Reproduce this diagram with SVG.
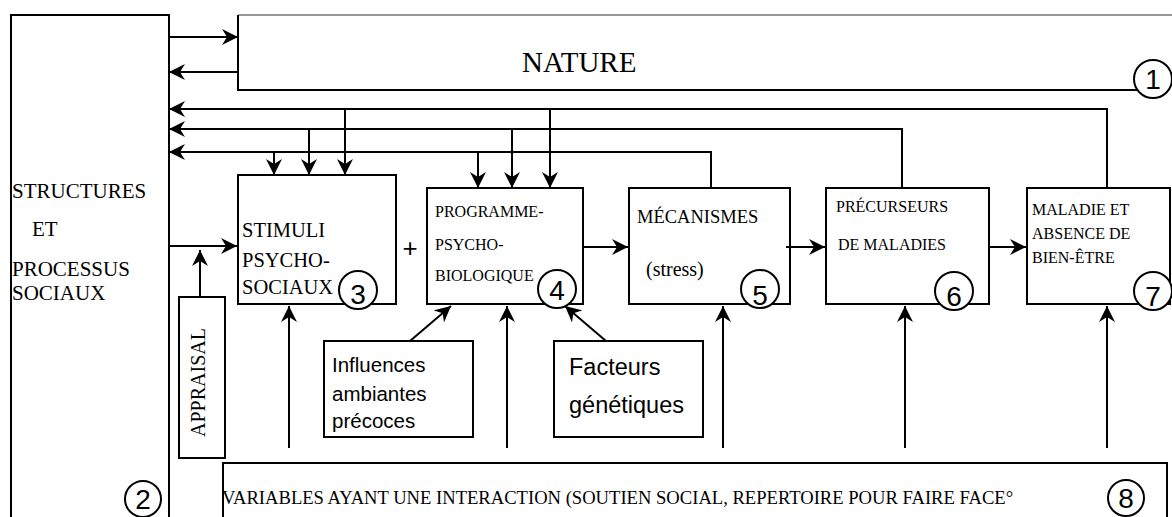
<svg xmlns="http://www.w3.org/2000/svg" width="1172" height="517" viewBox="0 0 1172 517">
<style>
.box{fill:#fff;stroke:#000;stroke-width:2}
.ln{fill:none;stroke:#000;stroke-width:2}
.num{fill:#fff;stroke:#000;stroke-width:2}
.serif{font-family:"Liberation Serif","Times New Roman",serif;fill:#000}
.sans{font-family:"Liberation Sans",Arial,sans-serif;fill:#000}
.dig{font-family:"Liberation Sans",Arial,sans-serif;font-size:28px;text-anchor:middle;fill:#000}
</style>
<defs>
<marker id="ah" viewBox="0 0 16 16" refX="16" refY="8" markerWidth="16" markerHeight="16" markerUnits="userSpaceOnUse" orient="auto">
<path d="M0,0 L16,8 L0,16 L5,8 Z" fill="#000"/>
</marker>
</defs>
<rect width="1172" height="517" fill="#fff"/>

<g id="node-structures">
<path class="ln" d="M11,517 V15 H169 V517"/>
<text class="serif" font-size="21" x="12" y="198">STRUCTURES</text>
<text class="serif" font-size="21" x="32" y="236">ET</text>
<text class="serif" font-size="21" x="12" y="276">PROCESSUS</text>
<text class="serif" font-size="21" x="12" y="300">SOCIAUX</text>
<circle class="num" cx="143" cy="499" r="18"/>
<text class="dig" x="143" y="509">2</text>
</g>

<g id="node-nature">
<path d="M238,15 H1172" stroke="#333" stroke-width="1.2" fill="none"/>
<path class="ln" d="M238,15 V90 H1140"/>
<text class="serif" font-size="29" x="522" y="72">NATURE</text>
<circle class="num" cx="1153" cy="79" r="19"/>
<text class="dig" x="1153" y="89">1</text>
</g>

<g id="node-stimuli">
<rect class="box" x="238" y="175" width="158" height="129"/>
<text class="serif" font-size="20.5" x="242" y="237">STIMULI</text>
<text class="serif" font-size="20.5" x="242" y="267">PSYCHO-</text>
<text class="serif" font-size="20.5" x="242" y="294">SOCIAUX</text>
<circle class="num" cx="358" cy="290" r="19"/>
<text class="dig" x="358" y="304">3</text>
</g>

<text class="sans" font-size="26" x="410" y="257" text-anchor="middle">+</text>

<g id="node-programme">
<rect class="box" x="427" y="188" width="156" height="116"/>
<text class="serif" font-size="16" x="435" y="217">PROGRAMME-</text>
<text class="serif" font-size="16" x="435" y="250">PSYCHO-</text>
<text class="serif" font-size="16" x="435" y="281">BIOLOGIQUE</text>
<circle class="num" cx="557" cy="289" r="19"/>
<text class="dig" x="557" y="300">4</text>
</g>

<g id="node-mecanismes">
<rect class="box" x="629" y="188" width="161" height="116"/>
<text class="serif" font-size="18.5" x="637" y="223">MÉCANISMES</text>
<text class="serif" font-size="20" x="646" y="276">(stress)</text>
<circle class="num" cx="760" cy="289" r="19"/>
<text class="dig" x="760" y="305">5</text>
</g>

<g id="node-precurseurs">
<rect class="box" x="826" y="188" width="163" height="116"/>
<text class="serif" font-size="16" x="836" y="212">PRÉCURSEURS</text>
<text class="serif" font-size="16" x="838" y="250">DE MALADIES</text>
<circle class="num" cx="954" cy="291" r="19"/>
<text class="dig" x="954" y="306">6</text>
</g>

<g id="node-maladie">
<rect class="box" x="1027" y="188" width="143" height="116"/>
<text class="serif" font-size="16" x="1032" y="215">MALADIE ET</text>
<text class="serif" font-size="16" x="1032" y="239">ABSENCE DE</text>
<text class="serif" font-size="16" x="1032" y="263">BIEN-ÊTRE</text>
<circle class="num" cx="1153" cy="291" r="19"/>
<text class="dig" x="1153" y="306">7</text>
</g>

<g id="node-appraisal">
<rect class="box" x="179" y="297" width="46" height="161"/>
<text class="serif" font-size="20" transform="translate(205,437) rotate(-90)">APPRAISAL</text>
</g>

<g id="node-influences">
<rect class="box" x="324" y="341" width="149" height="96"/>
<text class="sans" font-size="20.5" x="332" y="372">Influences</text>
<text class="sans" font-size="20.5" x="332" y="401">ambiantes</text>
<text class="sans" font-size="20.5" x="332" y="428">précoces</text>
</g>

<g id="node-facteurs">
<rect class="box" x="554" y="341" width="149" height="96"/>
<text class="sans" font-size="23.5" x="569" y="375">Facteurs</text>
<text class="sans" font-size="23.5" x="569" y="413">génétiques</text>
</g>

<g id="node-variables">
<path class="ln" d="M223,517 V463 H1167 V517"/>
<text class="serif" font-size="18.6" x="222" y="504">VARIABLES AYANT UNE INTERACTION (SOUTIEN SOCIAL, REPERTOIRE POUR FAIRE FACE°</text>
<circle class="num" cx="1126" cy="498" r="18"/>
<text class="dig" x="1126" y="508">8</text>
</g>

<g id="connectors">
<path class="ln" d="M169,37 H238" marker-end="url(#ah)"/>
<path class="ln" d="M238,72 H169" marker-end="url(#ah)"/>
<path class="ln" d="M1107,188 V109 H169" marker-end="url(#ah)"/>
<path class="ln" d="M902,188 V129 H169" marker-end="url(#ah)"/>
<path class="ln" d="M711,188 V152 H169" marker-end="url(#ah)"/>
<path class="ln" d="M274,152 V175" marker-end="url(#ah)"/>
<path class="ln" d="M309,129 V175" marker-end="url(#ah)"/>
<path class="ln" d="M345,109 V175" marker-end="url(#ah)"/>
<path class="ln" d="M478,152 V188" marker-end="url(#ah)"/>
<path class="ln" d="M512,129 V188" marker-end="url(#ah)"/>
<path class="ln" d="M550,109 V188" marker-end="url(#ah)"/>
<path class="ln" d="M169,246 H237" marker-end="url(#ah)"/>
<path class="ln" d="M200,297 V250" marker-end="url(#ah)"/>
<path class="ln" d="M583,247 H628" marker-end="url(#ah)"/>
<path class="ln" d="M786,247 H825" marker-end="url(#ah)"/>
<path class="ln" d="M988,247 H1026" marker-end="url(#ah)"/>
<path class="ln" d="M289,448 V306" marker-end="url(#ah)"/>
<path class="ln" d="M507,448 V306" marker-end="url(#ah)"/>
<path class="ln" d="M723,448 V306" marker-end="url(#ah)"/>
<path class="ln" d="M905,448 V306" marker-end="url(#ah)"/>
<path class="ln" d="M1107,448 V306" marker-end="url(#ah)"/>
<path class="ln" d="M410,341 L451,306" marker-end="url(#ah)"/>
<path class="ln" d="M606,341 L565,306" marker-end="url(#ah)"/>
</g>
</svg>
